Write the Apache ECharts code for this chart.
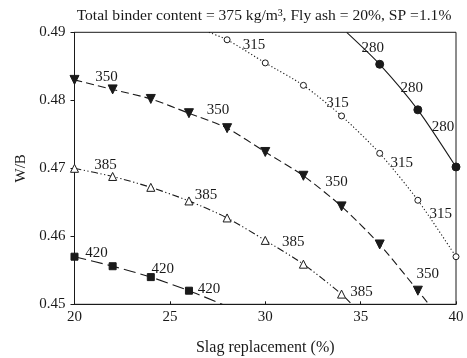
<!DOCTYPE html>
<html>
<head>
<meta charset="utf-8">
<script src="https://cdn.jsdelivr.net/npm/echarts@6/dist/echarts.min.js"></script>
<style>
  html, body { margin: 0; padding: 0; background: #fff; }
  #chart { width: 467px; height: 358px; }
</style>
</head>
<body>
<div id="chart"></div>
<script>
// Contour levels of the strength response surface
const levels = ['280', '315', '350', '385', '420'];

// Slag replacement (%) and W/B along each contour; points on the frame edge carry no marker
const slag280 = [34.27, 36, 38, 40];
const wb280   = [0.49, 0.4853, 0.4786, 0.4702];
const slag315 = [27.05, 28, 30, 32, 34, 36, 38, 40];
const wb315   = [0.49, 0.4889, 0.4855, 0.4822, 0.4777, 0.4722, 0.4653, 0.457];
const slag350 = [20, 22, 24, 26, 28, 30, 32, 34, 36, 38, 38.58];
const wb350   = [0.483, 0.4816, 0.4802, 0.4781, 0.4759, 0.4724, 0.4689, 0.4644, 0.4588, 0.452, 0.45];
const slag385 = [20, 22, 24, 26, 28, 30, 32, 34, 34.53];
const wb385   = [0.470, 0.4688, 0.4672, 0.4652, 0.4627, 0.4594, 0.4559, 0.4515, 0.45];
const slag420 = [20, 22, 24, 26, 27.75];
const wb420   = [0.457, 0.4556, 0.454, 0.452, 0.45];

// Axis ticks
const xTicks = [20, 25, 30, 35, 40];
const yTicks = [0.45, 0.46, 0.47, 0.48, 0.49];

const SERIF = "'Liberation Serif', 'Times New Roman', serif";
const INK = '#1a1a1a';

// Per-contour drawing style and where the level labels sit
const styles = {
  '280': { xs: slag280, ys: wb280, symbol: 'circle', size: 8, fill: INK, dash: 'solid',
           labels: [[1, -7, -16], [2, -6, -22], [3, -13, -40]] },
  '315': { xs: slag315, ys: wb315, symbol: 'circle', size: 6, fill: '#fff', dash: [1.2, 2.2],
           labels: [[1, 27, 5], [4, -4, -13], [5, 22, 10], [6, 23, 14]] },
  '350': { xs: slag350, ys: wb350, symbol: 'triangle', rotate: 180, size: 9, fill: INK, dash: [8, 4],
           labels: [[0, 32, -3], [3, 29, -3], [6, 33, 6], [9, 10, -17]] },
  '385': { xs: slag385, ys: wb385, symbol: 'triangle', size: 8, fill: '#fff', dash: [7, 2.5, 1.2, 2.5, 1.2, 2.5],
           labels: [[0, 31, -3], [3, 17, -6], [5, 28, 2], [7, 20, -2]] },
  '420': { xs: slag420, ys: wb420, symbol: 'rect', size: 7, fill: INK, dash: [12, 5],
           labels: [[0, 22, -4], [2, 12, -8], [3, 20, -2]] }
};

const yMin = yTicks[0], yMax = yTicks[yTicks.length - 1];

const series = levels.map(function (lv) {
  const s = styles[lv];
  const data = s.xs.map(function (x, i) {
    const y = s.ys[i];
    const item = { value: [x, y] };
    if (y === yMin || y === yMax) {
      item.symbol = 'none';
    }
    const lab = s.labels.find(function (l) { return l[0] === i; });
    if (lab) {
      item.label = {
        show: true,
        position: 'inside',
        offset: [lab[1], lab[2]],
        formatter: lv,
        fontFamily: SERIF,
        fontSize: 15,
        color: INK
      };
    }
    return item;
  });
  return {
    type: 'line',
    name: lv,
    data: data,
    smooth: 0.25,
    symbol: s.symbol,
    symbolSize: s.size,
    symbolRotate: s.rotate || 0,
    showAllSymbol: true,
    clip: true,
    lineStyle: { color: INK, width: 1.1, type: s.dash },
    itemStyle: { color: s.fill, borderColor: INK, borderWidth: 1 },
    label: { show: false },
    emphasis: { disabled: true },
    z: 3
  };
});

const chart = echarts.init(document.getElementById('chart'), null, { renderer: 'canvas' });
chart.setOption({
  animation: false,
  backgroundColor: '#fff',
  title: {
    text: 'Total binder content = 375 kg/m³, Fly ash = 20%, SP =1.1%',
    left: 259,
    textAlign: 'center',
    top: 3,
    textStyle: { fontFamily: SERIF, fontSize: 15.6, fontWeight: 'normal', color: INK }
  },
  grid: {
    left: 74.5, right: 11, top: 32.3, bottom: 53.7,
    outerBoundsMode: 'none',
    containLabel: false,
    show: true, borderColor: INK, borderWidth: 1, backgroundColor: 'transparent'
  },
  xAxis: {
    type: 'value',
    min: xTicks[0], max: xTicks[xTicks.length - 1], interval: xTicks[1] - xTicks[0],
    name: 'Slag replacement (%)',
    nameLocation: 'middle',
    nameGap: 35,
    nameTextStyle: { fontFamily: SERIF, fontSize: 16, color: INK },
    axisLine: { show: true, lineStyle: { color: INK, width: 1 } },
    axisTick: { show: true, length: 3, inside: true, lineStyle: { color: INK } },
    axisLabel: { fontFamily: SERIF, fontSize: 15, color: INK, margin: 5 },
    splitLine: { show: false }
  },
  yAxis: {
    type: 'value',
    min: yMin, max: yMax, interval: 0.01,
    name: 'W/B',
    nameLocation: 'middle',
    nameGap: 42,
    nameRotate: 90,
    nameTextStyle: { fontFamily: SERIF, fontSize: 15, color: INK },
    axisLine: { show: true, lineStyle: { color: INK, width: 1 } },
    axisTick: { show: true, length: 4, inside: false, lineStyle: { color: INK } },
    axisLabel: {
      fontFamily: SERIF, fontSize: 15, color: INK, margin: 9,
      formatter: function (v) { return v.toFixed(2); }
    },
    splitLine: { show: false }
  },
  series: series
});
</script>
</body>
</html>
